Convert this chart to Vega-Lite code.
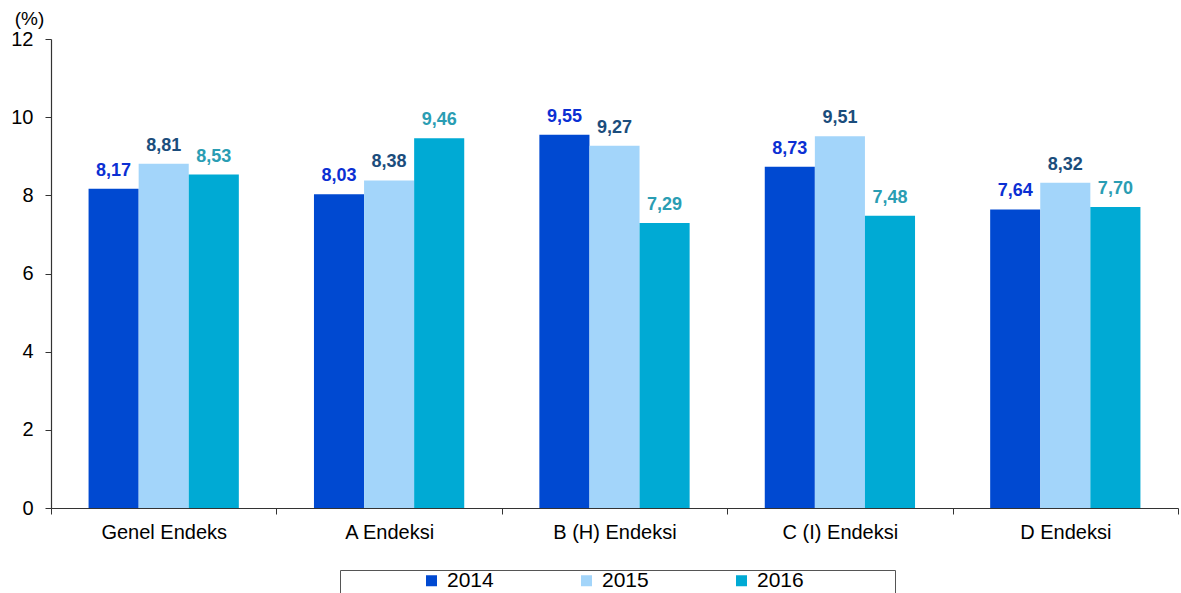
{
  "$schema": "https://vega.github.io/schema/vega-lite/v6.json",
  "width": 1127,
  "height": 469,
  "autosize": {"type": "none"},
  "padding": {"left": 51, "top": 39, "right": 3, "bottom": 85},
  "config": {
    "view": {"stroke": null},
    "font": "Liberation Sans",
    "locale": {"number": {"decimal": ",", "thousands": ".", "grouping": [3], "currency": ["", " TL"]}}
  },
  "data": {
    "values": [
      {"cat": "Genel Endeks", "year": "2014", "value": 8.17},
      {"cat": "Genel Endeks", "year": "2015", "value": 8.81},
      {"cat": "Genel Endeks", "year": "2016", "value": 8.53},
      {"cat": "A Endeksi", "year": "2014", "value": 8.03},
      {"cat": "A Endeksi", "year": "2015", "value": 8.38},
      {"cat": "A Endeksi", "year": "2016", "value": 9.46},
      {"cat": "B (H) Endeksi", "year": "2014", "value": 9.55},
      {"cat": "B (H) Endeksi", "year": "2015", "value": 9.27},
      {"cat": "B (H) Endeksi", "year": "2016", "value": 7.29},
      {"cat": "C (I) Endeksi", "year": "2014", "value": 8.73},
      {"cat": "C (I) Endeksi", "year": "2015", "value": 9.51},
      {"cat": "C (I) Endeksi", "year": "2016", "value": 7.48},
      {"cat": "D Endeksi", "year": "2014", "value": 7.64},
      {"cat": "D Endeksi", "year": "2015", "value": 8.32},
      {"cat": "D Endeksi", "year": "2016", "value": 7.70}
    ]
  },
  "encoding": {
    "x": {
      "field": "cat",
      "type": "nominal",
      "sort": ["Genel Endeks", "A Endeksi", "B (H) Endeksi", "C (I) Endeksi", "D Endeksi"],
      "scale": {"paddingInner": 0, "paddingOuter": 0},
      "axis": {
        "title": null,
        "labelAngle": 0,
        "labelFontSize": 20,
        "labelColor": "#000000",
        "labelPadding": 8,
        "tickBand": "extent",
        "tickSize": 6,
        "tickColor": "#333333",
        "domainColor": "#333333",
        "domainWidth": 1.2,
        "grid": false
      }
    },
    "xOffset": {
      "field": "year",
      "type": "nominal",
      "scale": {"paddingInner": 0, "paddingOuter": 0.75}
    },
    "y": {
      "field": "value",
      "type": "quantitative",
      "scale": {"domain": [0, 12]},
      "axis": {
        "title": "(%)",
        "titleAngle": 0,
        "titleFontSize": 19,
        "titleFontWeight": "normal",
        "titleColor": "#000000",
        "titleX": -22,
        "titleY": -21,
        "titleAlign": "center",
        "titleBaseline": "middle",
        "values": [0, 2, 4, 6, 8, 10, 12],
        "labelFontSize": 20,
        "labelColor": "#000000",
        "labelPadding": 12,
        "tickSize": 6,
        "tickColor": "#333333",
        "domainColor": "#333333",
        "domainWidth": 1.2,
        "grid": false
      }
    }
  },
  "layer": [
    {
      "mark": {"type": "bar"},
      "encoding": {
        "color": {
          "field": "year",
          "type": "nominal",
          "scale": {"domain": ["2014", "2015", "2016"], "range": ["#0049D1", "#A3D5FA", "#00AAD4"]},
          "legend": {
            "orient": "none",
            "legendX": 289,
            "legendY": 531,
            "direction": "horizontal",
            "title": "\u00a0",
            "titleOrient": "left",
            "titleFontSize": 30,
            "titlePadding": 81,
            "strokeColor": "#555555",
            "padding": 0,
            "symbolType": "square",
            "symbolSize": 121,
            "symbolStrokeWidth": 0,
            "labelFontSize": 21,
            "labelColor": "#000000",
            "labelOffset": 5,
            "columnPadding": 82,
            "labelExpr": "datum.value == '2016' ? '2016\u00a0\u00a0\u00a0\u00a0\u00a0\u00a0\u00a0\u00a0\u00a0\u00a0\u00a0\u00a0\u00a0\u2800' : datum.label"
          }
        }
      }
    },
    {
      "mark": {"type": "text", "dy": -13, "baseline": "alphabetic", "fontWeight": "bold", "fontSize": 18},
      "encoding": {
        "text": {"field": "value", "type": "quantitative", "format": ".2f"},
        "color": {
          "field": "year",
          "type": "nominal",
          "scale": {"domain": ["2014", "2015", "2016"], "range": ["#0B2FD3", "#1B4D7C", "#2A9DB3"]},
          "legend": null
        }
      }
    }
  ],
  "resolve": {"scale": {"color": "independent"}}
}
